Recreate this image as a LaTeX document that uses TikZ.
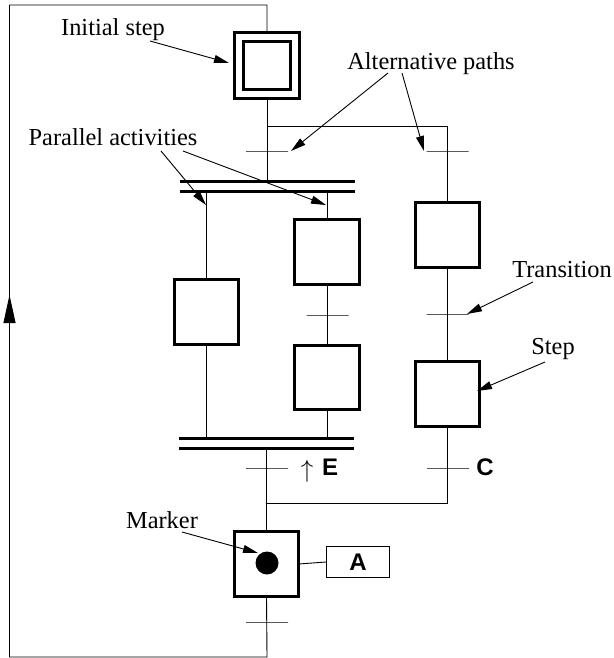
\documentclass[tikz,border=0pt]{standalone}
\usepackage{fontspec}
\setmainfont{Liberation Serif}
\newfontfamily\hvfont{Liberation Sans}
\usetikzlibrary{arrows.meta}
\begin{document}
\begin{tikzpicture}[x=1pt,y=-1pt,
  stepbox/.style={draw,line width=2.6pt,minimum size=64.5pt,inner sep=0pt,outer sep=0pt},
  trans/.style={draw,line width=0.9pt,minimum width=42pt,minimum height=0pt,inner sep=0pt,outer sep=0pt},
  conn/.style={line width=0.9pt},
  bar/.style={line width=3pt},
  lbl/.style={font=\fontsize{24.4}{28}\selectfont,anchor=base,inner sep=0pt},
  sym/.style={font=\fontsize{24}{28}\selectfont\hvfont\bfseries,anchor=base,inner sep=0pt},
  ptr/.style={line width=0.9pt,-{Triangle[length=15pt,width=8pt]}},
  barnode/.style={minimum width=175pt,minimum height=10.5pt,inner sep=0pt,outer sep=0pt}
]
\useasboundingbox (0,0) rectangle (613,658);

% initial step
\node[draw,line width=2.6pt,minimum size=65.5pt,inner sep=0pt,outer sep=0pt] (init) at (267,65.5) {};
\node[draw,line width=2.6pt,minimum size=47.5pt,inner sep=0pt] (initin) at (267,65.5) {};

% parallel bars
\node[barnode] (par1) at (267,186.5) {};
\node[barnode] (par2) at (266.5,443.5) {};
\draw[bar] (par1.north west) -- (par1.north east);
\draw[bar] (par1.south west) -- (par1.south east);
\draw[bar] (par2.north west) -- (par2.north east);
\draw[bar] (par2.south west) -- (par2.south east);

% steps
\node[stepbox] (l1) at (206.5,312) {};
\node[stepbox] (m1) at (327,252) {};
\node[stepbox] (m2) at (327,377.5) {};
\node[stepbox] (r1) at (447.5,235) {};
\node[stepbox] (r2) at (447.5,394) {};
\node[stepbox] (s5) at (266.5,564) {};
\node[draw,line width=1.2pt,minimum width=63pt,minimum height=31pt,inner sep=0pt] (act) at (358,562) {};
\node[sym,anchor=center] (actA) at (act.center) {A};
\fill (267,563) circle (11.5);

% coordinates
\coordinate (brA) at (267,126);
\coordinate (mergeB) at (267,503);
\coordinate (loopB) at (267,657);
\coordinate (loopBL) at (9.5,657);
\coordinate (loopTL) at (9.5,5);
\coordinate (loopT) at (267,5);
\coordinate (arrS) at (9.5,323);
\coordinate (arrE) at (9.5,295);

% connectors
\draw[conn] (init.south) -- (init.south |- par1.north);
\draw[conn] (brA) -| (r1.north);
\draw[conn] (l1.north |- par1.south) -- (l1.north);
\draw[conn] (l1.south) -- (l1.south |- par2.north);
\draw[conn] (m1.north |- par1.south) -- (m1.north);
\draw[conn] (m1.south) -- (m2.north);
\draw[conn] (m2.south) -- (m2.south |- par2.north);
\draw[conn] (r1.south) -- (r2.north);
\draw[conn] (r2.south) |- (mergeB);
\draw[conn] (s5.north |- par2.south) -- (s5.north);
\draw[conn] (s5.east) -- (act.west);
\draw[conn] (s5.south) -- (loopB) -- (loopBL) -- (loopTL) -- (loopT) -- (init.north);
\draw[conn,-{Triangle[length=28pt,width=12pt]}] (arrS) -- (arrE);

% transitions
\node[trans] (t1) at (267,151) {};
\node[trans] (t2) at (447.5,151) {};
\node[trans] (t3) at (327.5,315) {};
\node[trans] (t4) at (447.5,314) {};
\node[trans] (t5) at (267,468) {};
\node[trans] (t6) at (448,468) {};
\node[trans] (t7) at (267,622) {};

% conditions
\node[anchor=base,inner sep=0pt,font=\fontsize{30}{34}\selectfont] (up) at (307,477) {$\uparrow$};
\node[sym] (condE) at (330,475) {E};
\node[sym] (condC) at (485,475) {C};

% labels
\node[lbl] (lInit) at (113,36) {Initial step};
\node[lbl] (lPar) at (113,146) {Parallel activities};
\node[lbl] (lAlt) at (431,70) {Alternative paths};
\node[lbl] (lTr) at (562,277) {Transition};
\node[lbl] (lStep) at (553,354) {Step};
\node[lbl] (lMark) at (162,528) {Marker};

\draw[ptr] (150,41) -- (229,63);
\draw[ptr] (161,151) -- (206,205);
\draw[ptr] (183,151) -- (326,205);
\draw[ptr] (388,73) -- (291,151);
\draw[ptr] (402,73) -- (424,151);
\draw[ptr] (533,282) -- (467,314);
\draw[ptr] (545,362) -- (477,391);
\draw[ptr] (182,532) -- (258,553);
\end{tikzpicture}
\end{document}
